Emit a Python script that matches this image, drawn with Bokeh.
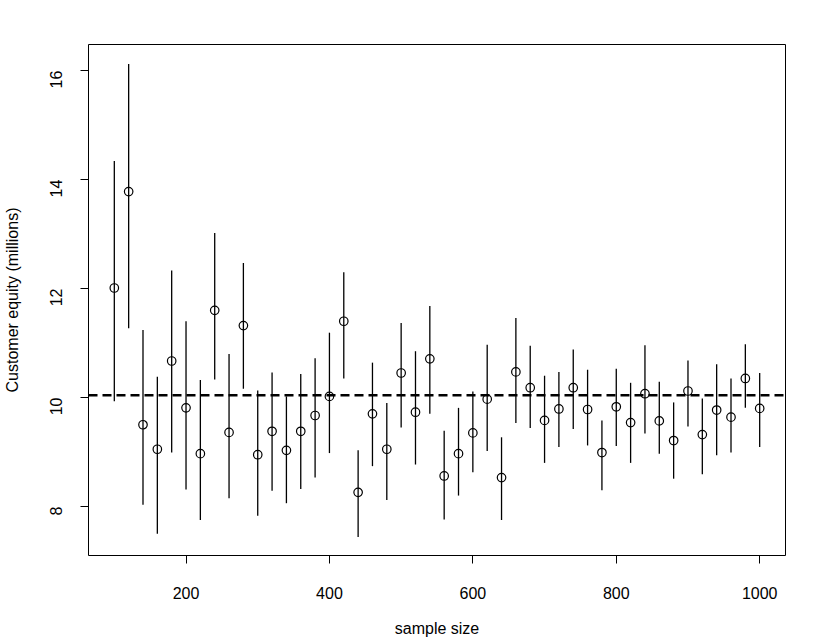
import math
from bokeh.plotting import figure
from bokeh.models import Span, FixedTicker, ColumnDataSource, Range1d
from bokeh.embed import file_html
from bokeh.resources import INLINE

sample_size = [100, 120, 140, 160, 180, 200, 220, 240, 260, 280,
               300, 320, 340, 360, 380, 400, 420, 440, 460, 480,
               500, 520, 540, 560, 580, 600, 620, 640, 660, 680,
               700, 720, 740, 760, 780, 800, 820, 840, 860, 880,
               900, 920, 940, 960, 980, 1000]
estimate = [12.01, 13.78, 9.50, 9.05, 10.67, 9.81, 8.97, 11.60, 9.36, 11.32,
            8.95, 9.38, 9.03, 9.38, 9.67, 10.02, 11.40, 8.26, 9.70, 9.05,
            10.45, 9.73, 10.71, 8.56, 8.97, 9.35, 9.97, 8.53, 10.47, 10.18,
            9.58, 9.79, 10.18, 9.78, 8.99, 9.83, 9.54, 10.07, 9.57, 9.21,
            10.12, 9.32, 9.77, 9.64, 10.35, 9.80]
upper = [14.34, 16.12, 11.24, 10.38, 12.33, 11.40, 10.32, 13.02, 10.80, 12.47,
         10.13, 10.46, 10.02, 10.43, 10.72, 11.19, 12.30, 9.03, 10.64, 9.90,
         11.37, 10.85, 11.68, 9.39, 9.81, 10.11, 10.97, 9.27, 11.46, 10.95,
         10.40, 10.47, 10.88, 10.51, 9.58, 10.53, 10.27, 10.96, 10.29, 9.91,
         10.68, 9.98, 10.61, 10.35, 10.98, 10.45]
lower = [9.93, 11.27, 8.03, 7.50, 8.99, 8.31, 7.75, 10.33, 8.15, 10.16,
         7.83, 8.29, 8.06, 8.32, 8.53, 8.98, 10.35, 7.44, 8.74, 8.12,
         9.45, 8.77, 9.70, 7.76, 8.20, 8.63, 9.02, 7.75, 9.53, 9.44,
         8.80, 9.09, 9.42, 9.12, 8.30, 9.11, 8.80, 9.34, 8.97, 8.51,
         9.47, 8.59, 8.94, 8.99, 9.81, 9.09]
true_value = 10.04
x_ticks = [200, 400, 600, 800, 1000]
y_ticks = [8, 10, 12, 14, 16]

src = ColumnDataSource(dict(x=sample_size, y=estimate, lo=lower, hi=upper))

FONT = "Liberation Sans"

p = figure(width=822, height=639, output_backend="svg", toolbar_location=None,
           x_range=Range1d(64, 1036), y_range=Range1d(7.10, 16.48),
           min_border_left=88, min_border_right=37, min_border_top=44,
           min_border_bottom=80, background_fill_color="white",
           border_fill_color="white")

p.grid.visible = False
p.outline_line_color = "black"
p.outline_line_width = 1

p.segment(x0="x", y0="lo", x1="x", y1="hi", source=src,
          line_color="black", line_width=1.3)
p.scatter(x="x", y="y", source=src, marker="circle", size=8.5,
          fill_color=None, line_color="black", line_width=1.2)

p.add_layout(Span(location=true_value, dimension="width", line_color="black",
                  line_width=2.5, line_dash="9 5"))

p.xaxis.ticker = FixedTicker(ticks=x_ticks)
p.yaxis.ticker = FixedTicker(ticks=y_ticks)
for ax in (p.xaxis[0], p.yaxis[0]):
    ax.axis_line_color = None
    ax.major_tick_in = 0
    ax.major_tick_out = 8
    ax.major_tick_line_color = "black"
    ax.minor_tick_line_color = None
    ax.major_label_text_font = FONT
    ax.major_label_text_font_size = "16px"
    ax.major_label_text_color = "black"
    ax.axis_label_text_font = FONT
    ax.axis_label_text_font_size = "16px"
    ax.axis_label_text_font_style = "normal"
    ax.axis_label_text_color = "black"

p.xaxis.axis_label = "sample size"
p.xaxis.major_label_standoff = 23
p.xaxis.axis_label_standoff = 18
p.yaxis.axis_label = "Customer equity (millions)"
p.yaxis.major_label_orientation = math.pi / 2
p.yaxis.major_label_standoff = 24
p.yaxis.axis_label_standoff = 21

open("out.html", "w").write(file_html(p, INLINE))
